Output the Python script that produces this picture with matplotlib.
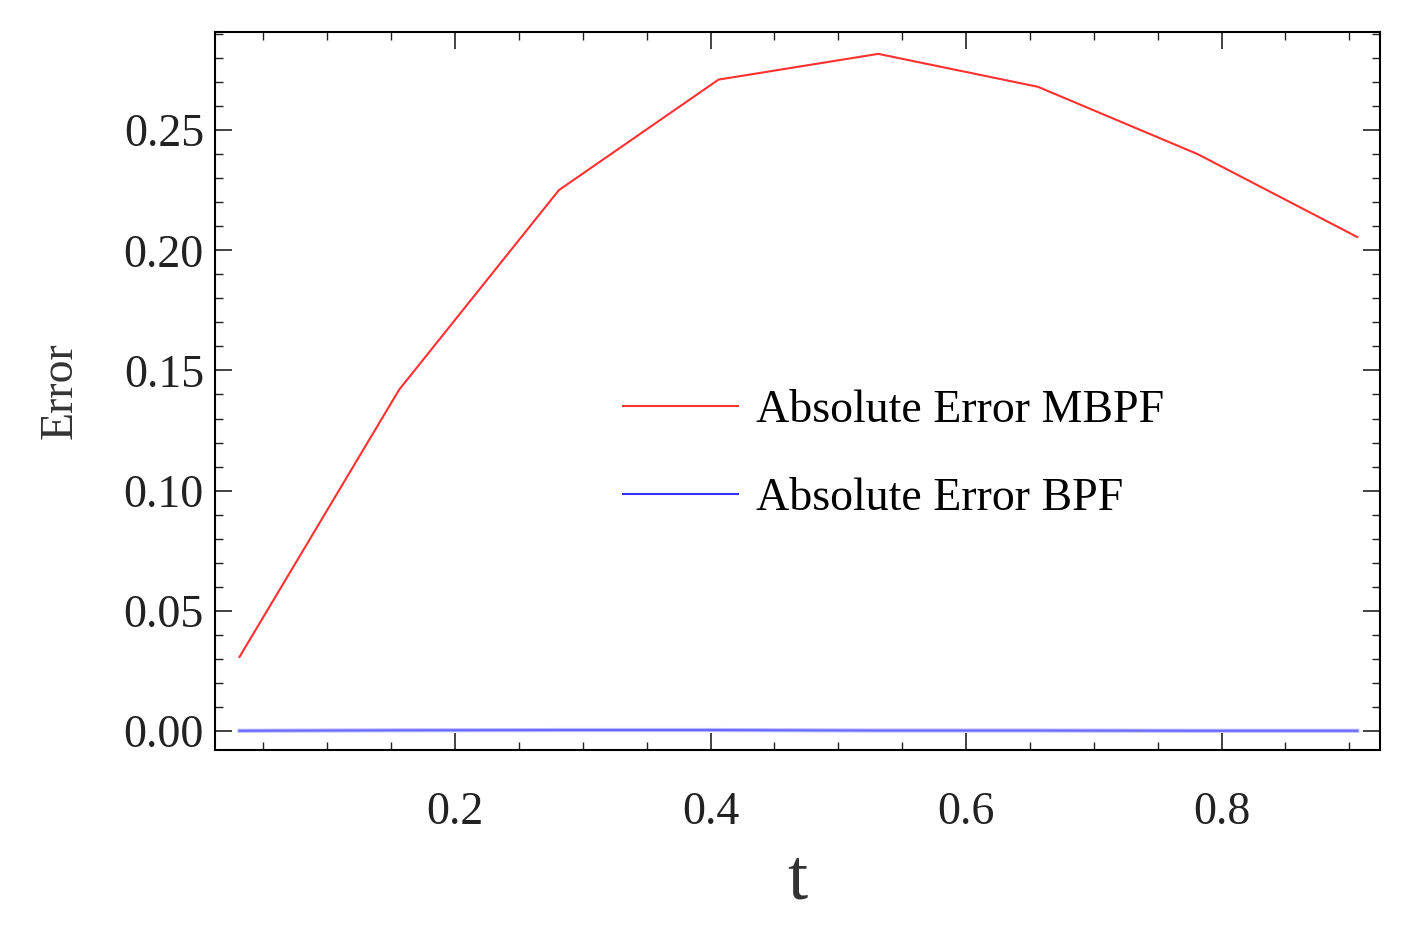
import matplotlib
matplotlib.use("Agg")
import matplotlib.pyplot as plt
from matplotlib.ticker import MultipleLocator

t = [0.03125, 0.15625, 0.28125, 0.40625, 0.53125, 0.65625, 0.78125, 0.90625]
err_mbpf = [0.0308, 0.142, 0.225, 0.271, 0.2817, 0.268, 0.240, 0.2055]
err_bpf = [0.0001, 0.0003, 0.0004, 0.0004, 0.0002, 0.0002, 0.0001, 0.0001]

plt.rcParams['font.family'] = ['Liberation Serif', 'DejaVu Serif']
fig = plt.figure(figsize=(14.24, 9.48), dpi=100)
ax = fig.add_axes([215/1424, 1-750/948, 1165/1424, 718/948])
ax.plot(t, err_mbpf, color='#ff3030', lw=1.5, label='Absolute Error MBPF')
ax.plot(t, err_bpf, color='#3030ff', lw=1.5, label='Absolute Error BPF')
ax.plot(t, err_bpf, color='#9090ff', lw=3, alpha=0.6)
ax.set_xlim(0.0121, 0.924)
ax.set_ylim(-0.0079, 0.2908)
ax.xaxis.set_major_locator(MultipleLocator(0.2))
ax.xaxis.set_minor_locator(MultipleLocator(0.05))
ax.yaxis.set_minor_locator(MultipleLocator(0.01))
ax.set_yticks([0, 0.05, 0.10, 0.15, 0.20, 0.25])
ax.set_yticklabels(['0.00', '0.05', '0.10', '0.15', '0.20', '0.25'])
ax.tick_params(which='both', direction='in', top=True, right=True, labelsize=33, colors='#222222')
ax.tick_params(which='major', length=12, width=1.2)
ax.tick_params(which='minor', length=6, width=1)
ax.tick_params(axis='x', pad=30)
ax.tick_params(axis='y', pad=8)
for s in ax.spines.values():
    s.set_linewidth(1.5)
ax.set_xlabel('t', fontsize=52, color='#333333', labelpad=10)
ax.set_ylabel('Error', fontsize=33, color='#333333', labelpad=30)
ax.legend(loc='upper left', bbox_to_anchor=(0.315, 0.56), frameon=False, fontsize=33,
          handlelength=2.5, handletextpad=0.4, labelspacing=1.0)
fig.savefig('out.png')
